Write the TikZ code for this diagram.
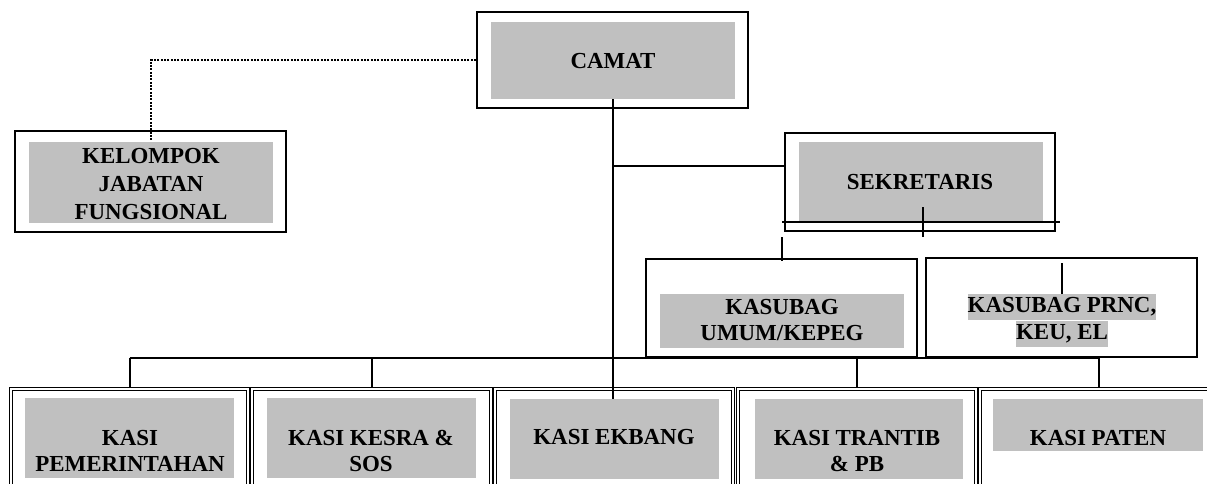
\documentclass[tikz,border=0pt]{standalone}
\usepackage{fontspec}
\setmainfont{Liberation Serif}
\usetikzlibrary{positioning,fit}
\definecolor{silver}{HTML}{C0C0C0}

\begin{document}
\begin{tikzpicture}[x=0.75pt,y=-0.75pt,
    every node/.style={font=\fontsize{17.2}{19}\selectfont\bfseries, align=center},
    outerbox/.style={draw, line width=1.7pt, inner sep=0pt},
    kasibox/.style={draw, line width=0.9pt, double, double distance=1.3pt, inner sep=0pt},
    shadebox/.style={fill=silver, inner sep=0pt},
    hilite/.style={fill=silver, inner sep=0pt, text height=14pt, text depth=5.5pt},
    link/.style={line width=1.5pt}]
    \useasboundingbox (0,0) rectangle (1207,483);

    % camat, sekretaris and the staff group
    \node[outerbox, fit={(477,12) (748,108)}] (camat-box) {};
    \node[shadebox, fit={(491,22) (735,99)}] (camat) {};
    \node[outerbox, fit={(15,131) (286,232)}] (kjf-box) {};
    \node[shadebox, fit={(29,142) (273,223)}] (kjf) {};
    \node[outerbox, fit={(785,133) (1055,231)}] (sek-box) {};
    \node[shadebox, fit={(799,142) (1043,221)}] (sek) {};
    \node[outerbox, line width=1.4pt, fit={(646,259) (917,357)}] (umum-box) {};
    \node[shadebox, fit={(660,294) (904,348)}] (umum) {};
    \node[outerbox, line width=1.4pt, fit={(926,258) (1197,357)}] (keu-box) {};

    % the five kasi
    \node[kasibox, fit={(11,389) (248,500)}] (pem-box) {};
    \node[shadebox, fit={(25,398) (234,478)}] (pem) {};
    \node[kasibox, fit={(252,389) (491,500)}] (kesra-box) {};
    \node[shadebox, fit={(267,398) (476,478)}] (kesra) {};
    \node[kasibox, fit={(495,389) (733,500)}] (ekbang-box) {};
    \node[shadebox, fit={(510,399) (719,479)}] (ekbang) {};
    \node[kasibox, fit={(738,389) (976,500)}] (trantib-box) {};
    \node[shadebox, fit={(755,399) (963,479)}] (trantib) {};
    \node[kasibox, fit={(980,389) (1218,500)}] (paten-box) {};
    \node[shadebox, fit={(993,399) (1203,451)}] (paten) {};

    % lines
    \draw[link, densely dotted] (camat-box.west) -| (kjf.north);
    \draw[link] (camat.south) -- (camat.south |- ekbang.north);
    \coordinate (sek-in) at (613,166);
    \draw[link] (sek-in) -- (sek-in -| sek-box.west);
    \coordinate (sek-l) at (782,222);
    \coordinate (sek-r) at (1060,222);
    \draw[link] (sek-l) -- (sek-r);
    \coordinate (sek-tick) at (923,207);
    \draw[link] (sek-tick) -- ++(0,30);
    \coordinate (umum-stub) at (782,237);
    \draw[link] (umum-stub) -- ([yshift=-2.5pt]umum-stub |- umum-box.north);
    \draw[link] (pem-box.north |- umum-box.south) -- (paten-box.north |- umum-box.south);
    \foreach \b in {pem,kesra,trantib,paten}
        \draw[link] (\b-box.north |- umum-box.south) -- (\b-box.north);

    % texts
    \node (camat-t) at (613,61) {CAMAT};
    \node[font=\fontsize{17.2}{21}\selectfont\bfseries] (kjf-t) at (151,184) {KELOMPOK\\JABATAN\\FUNGSIONAL};
    \node (sek-t) at (920,182) {SEKRETARIS};
    \node (umum-t) at (782,320) {KASUBAG\\UMUM/KEPEG};
    \node[hilite] (keu-a) at (1062,307) {KASUBAG PRNC,};
    \node[hilite, below=0pt of keu-a] (keu-b) {KEU, EL};
    \coordinate (keu-stub) at (1062,263);
    \draw[link] (keu-stub) -- (keu-stub |- keu-a.north);
    \node (pem-t) at (130,451) {KASI\\PEMERINTAHAN};
    \node (kesra-t) at (371,451) {KASI KESRA \&\\SOS};
    \node (ekbang-t) at (614,437) {KASI EKBANG};
    \node (trantib-t) at (857,451) {KASI TRANTIB\\\& PB};
    \node (paten-t) at (1098,438) {KASI PATEN};
\end{tikzpicture}
\end{document}
